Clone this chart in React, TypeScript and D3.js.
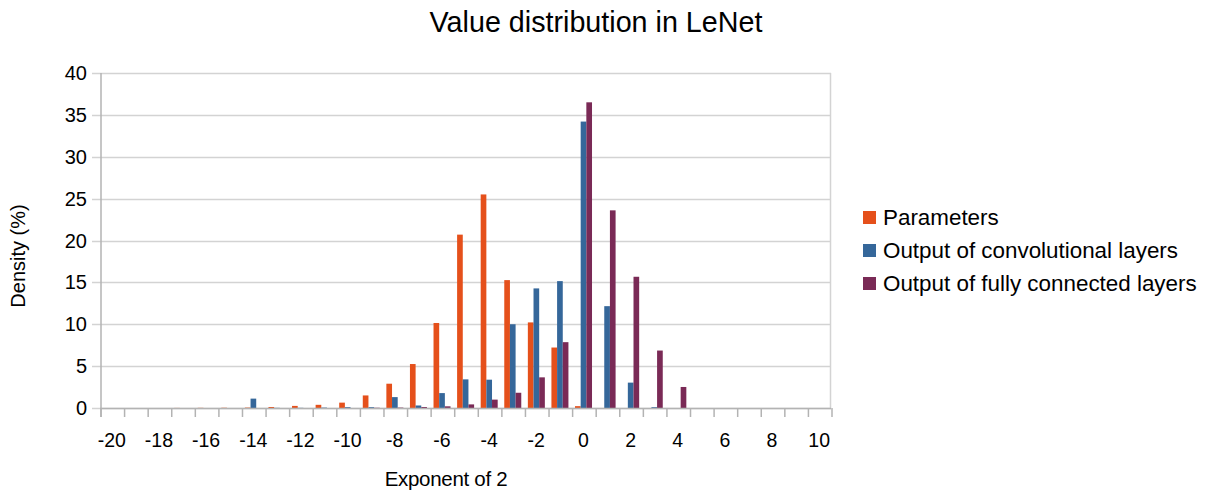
import React from "react";
import * as d3 from "d3";

const categories = [-20, -19, -18, -17, -16, -15, -14, -13, -12, -11, -10, -9, -8, -7, -6, -5, -4, -3, -2, -1, 0, 1, 2, 3, 4, 5, 6, 7, 8, 9, 10];
const parameters = [0, 0, 0, 0.01, 0.02, 0.03, 0.05, 0.12, 0.25, 0.38, 0.64, 1.5, 2.9, 5.25, 10.15, 20.7, 25.5, 15.27, 10.22, 7.22, 0.22, 0, 0, 0, 0, 0, 0, 0, 0, 0, 0];
const convOutputs = [0, 0, 0, 0, 0, 0, 1.12, 0.02, 0.02, 0.05, 0.1, 0.1, 1.3, 0.3, 1.78, 3.42, 3.38, 10.0, 14.28, 15.15, 34.2, 12.16, 3.03, 0.1, 0, 0, 0, 0, 0, 0, 0];
const fcOutputs = [0, 0, 0, 0, 0, 0, 0, 0, 0, 0, 0, 0.03, 0.05, 0.12, 0.2, 0.43, 1.0, 1.82, 3.66, 7.86, 36.5, 23.6, 15.67, 6.86, 2.51, 0, 0, 0, 0, 0, 0];
const seriesNames = ["Parameters", "Output of convolutional layers", "Output of fully connected layers"];
const seriesColors = ["#E5501B", "#35679A", "#7A2A56"];
const yTicks = [0, 5, 10, 15, 20, 25, 30, 35, 40];
const xTickLabels = [-20, -18, -16, -14, -12, -10, -8, -6, -4, -2, 0, 2, 4, 6, 8, 10];

const W = 1206;
const H = 492;
const left = 100;
const right = 831;
const top = 73;
const bottom = 408;
const font = "'Liberation Sans', Arial, sans-serif";

export default function App() {
  const allSeries = [parameters, convOutputs, fcOutputs];
  const x = d3.scaleBand<number>().domain(categories).range([left, right]).paddingInner(0).paddingOuter(0);
  const bw = x.bandwidth();
  const inner = d3
    .scaleBand<number>()
    .domain([0, 1, 2])
    .range([bw * 0.144, bw * 0.865])
    .padding(0);
  const y = d3.scaleLinear().domain([0, 40]).range([bottom, top]);
  const boundaries = categories.map((c) => x(c) as number).concat([right]);

  return (
    <svg width={W} height={H} style={{ display: "block", position: "absolute", left: 0, top: 0 }} fontFamily={font}>
      <rect x={0} y={0} width={W} height={H} fill="#fff" />
      <text x={596} y={31.5} textAnchor="middle" fontSize={28.7} fill="#000">
        Value distribution in LeNet
      </text>
      {/* gridlines */}
      {yTicks.map((t) => (
        <line key={"g" + t} x1={left - 8} x2={right} y1={Math.round(y(t)) + 0.5} y2={Math.round(y(t)) + 0.5} stroke="#d3d3d3" strokeWidth={1.5} />
      ))}
      {/* right border */}
      <line x1={right - 0.5} x2={right - 0.5} y1={top} y2={bottom} stroke="#d3d3d3" strokeWidth={1.5} />
      {/* y axis */}
      <line x1={left + 1} x2={left + 1} y1={top} y2={bottom + 9} stroke="#b3b3b3" strokeWidth={1.5} />
      {yTicks.map((t) => (
        <text key={"yl" + t} x={87} y={y(t) + 7} textAnchor="end" fontSize={20} fill="#000">
          {t}
        </text>
      ))}
      {/* bars */}
      {allSeries.map((s, si) =>
        s.map((v, i) =>
          v > 0 ? (
            <rect
              key={si + "-" + i}
              x={(x(categories[i]) as number) + (inner(si) as number)}
              y={y(v)}
              width={inner.bandwidth()}
              height={bottom - y(v)}
              fill={seriesColors[si]}
            />
          ) : null
        )
      )}
      {/* x axis */}
      <line x1={left} x2={right} y1={bottom + 0.5} y2={bottom + 0.5} stroke="#b3b3b3" strokeWidth={1.5} />
      {boundaries.map((b, i) => (
        <line key={"xt" + i} x1={b + 1} x2={b + 1} y1={bottom} y2={bottom + 9} stroke="#b3b3b3" strokeWidth={1.5} />
      ))}
      {xTickLabels.map((c) => (
        <text key={"xl" + c} x={(x(c) as number) + bw / 2} y={447} textAnchor="middle" fontSize={19.5} fill="#000">
          {c}
        </text>
      ))}
      <text x={446} y={486} textAnchor="middle" fontSize={20.5} letterSpacing={-0.3} fill="#000">
        Exponent of 2
      </text>
      <text transform={`translate(25,256) rotate(-90)`} textAnchor="middle" fontSize={20} fill="#000">
        Density (%)
      </text>
      {/* legend */}
      {seriesNames.map((n, i) => (
        <g key={n} transform={`translate(863, ${211 + i * 33})`}>
          <rect x={0} y={0} width={13} height={13} fill={seriesColors[i]} />
          <text x={20} y={14} fontSize={22.4} fill="#000">
            {n}
          </text>
        </g>
      ))}
    </svg>
  );
}
